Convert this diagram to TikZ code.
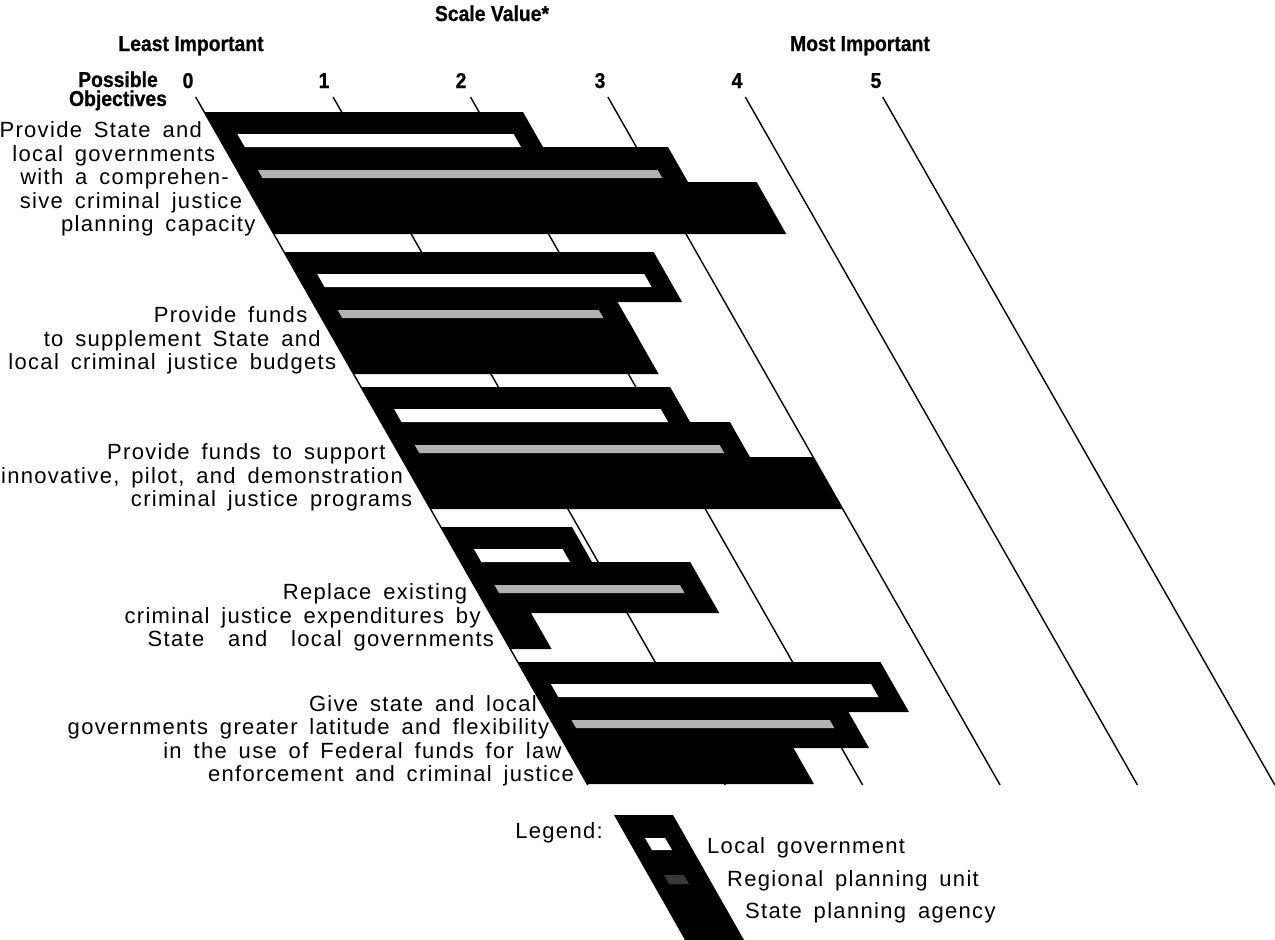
\documentclass[tikz,border=0pt]{standalone}
\usepackage{fontspec}
\setmainfont{Liberation Sans}
\newfontfamily\bodyfont[LetterSpace=6,WordSpace=1.6]{Liberation Sans}
\newfontfamily\headfont[FakeBold=0.8,FakeStretch=0.9]{Liberation Sans Bold}
\newcommand{\objbar}[4]{%
  \fill[barfill] (0,#1) -- (#2,#1) -- (#2,#1+50) -- (0,#1+50) -- cycle;
  \fill[barfill] (0,#1+35) -- (#3,#1+35) -- (#3,#1+86) -- (0,#1+86) -- cycle;
  \fill[barfill] (0,#1+70) -- (#4,#1+70) -- (#4,#1+122) -- (0,#1+122) -- cycle;
  \fill[localmark] (0.15,#1+22) -- (#2-0.16,#1+22) -- (#2-0.16,#1+35) -- (0.15,#1+35) -- cycle;
  \fill[regmark] (0.15,#1+58) -- (#3-0.17,#1+58) -- (#3-0.17,#1+66) -- (0.15,#1+66) -- cycle;
}
\begin{document}
\begin{tikzpicture}[x=1pt,y=-1pt,
  body/.style={font=\bodyfont\fontsize{22}{24}\selectfont, inner sep=0pt, anchor=base east},
  legtext/.style={font=\bodyfont\fontsize{22}{24}\selectfont, inner sep=0pt, anchor=base west},
  head/.style={font=\headfont\fontsize{21.5}{22}\selectfont, inner sep=0pt, anchor=base},
  grid/.style={line width=1.4pt},
  barfill/.style={fill=black},
  localmark/.style={fill=white},
  regmark/.style={fill=black!30}]
\useasboundingbox (0,0) rectangle (1275,940);

% headings
\node[head] (scale) at (492,21) {Scale Value*};
\node[head] (least) at (191,51) {Least Important};
\node[head] (most) at (860,51) {Most Important};
\node[head] (poss) at (118,87) {Possible};
\node[head] (objs) at (118,106) {Objectives};
\foreach \k/\x in {0/188,1/324,2/461,3/600,4/737,5/876}
  \node[head] (n\k) at (\x,88) {\k};

% slanted scale: (v,y) -> x = 140.4 + 137.4 v + 0.57 y
\begin{scope}[shift={(140.4,0)}, xslant=-0.57, x=137.4pt]
  \foreach \k in {0,...,5} {
    \coordinate (gt\k) at (\k,97);
    \coordinate (gb\k) at (\k,785);
    \draw[grid] (gt\k) -- (gb\k);
  }
  \objbar{112}{2.32}{3.23}{3.73}
  \objbar{252}{2.69}{2.22}{2.22}
  \objbar{387}{2.25}{2.54}{3.00}
  \objbar{527}{0.955}{1.67}{0.30}
  \objbar{662}{2.64}{2.20}{1.65}
\end{scope}

% objective texts
\node[body] (a1) at ({140.4+0.57*131-13},137.5) {Provide State and};
\node[body] (a2) at ({140.4+0.57*154.5-13},161) {local governments};
\node[body] (a3) at ({140.4+0.57*178-13},184.5) {with a comprehen-};
\node[body] (a4) at ({140.4+0.57*201.5-13},208) {sive criminal justice};
\node[body] (a5) at ({140.4+0.57*225-13},231.5) {planning capacity};

\node[body] (b1) at ({140.4+0.57*316-13},322.5) {Provide funds};
\node[body] (b2) at ({140.4+0.57*339.5-13},346) {to supplement State and};
\node[body] (b3) at ({140.4+0.57*363-11},369.5) {local criminal justice budgets};

\node[body] (c1) at ({140.4+0.57*453-13},459.5) {Provide funds to support};
\node[body] (c2) at ({140.4+0.57*476.5-9},483) {innovative, pilot, and demonstration};
\node[body] (c3) at ({140.4+0.57*500-13},506.5) {criminal justice programs};

\node[body] (d1) at ({140.4+0.57*593-11},599.5) {Replace existing};
\node[body] (d2) at ({140.4+0.57*616.5-11},623) {criminal justice expenditures by};
\node[body] (d3) at ({140.4+0.57*640-11},646.5) {State\ \ and\ \ local governments};

\node[body] (e1) at ({140.4+0.57*704.5-5},711) {Give state and local};
\node[body] (e2) at ({140.4+0.57*728-6},734.5) {governments greater latitude and flexibility};
\node[body] (e3) at ({140.4+0.57*751.5-7},758) {in the use of Federal funds for law};
\node[body] (e4) at ({140.4+0.57*775-8},781.5) {enforcement and criminal justice};

% legend
\fill[barfill] (614,815) -- (673,815) -- (744,940) -- (685,940) -- cycle;
\fill[localmark] (645,838) -- (665,838) -- (672,850) -- (652,850) -- cycle;
\fill[black!78] (664,875) -- (684,875) -- (689,884) -- (669,884) -- cycle;
\node[body] (leg) at (603,838) {Legend:};
\node[legtext] (l1) at (707,853) {Local government};
\node[legtext] (l2) at (727,886) {Regional planning unit};
\node[legtext] (l3) at (745,918) {State planning agency};
\end{tikzpicture}
\end{document}
